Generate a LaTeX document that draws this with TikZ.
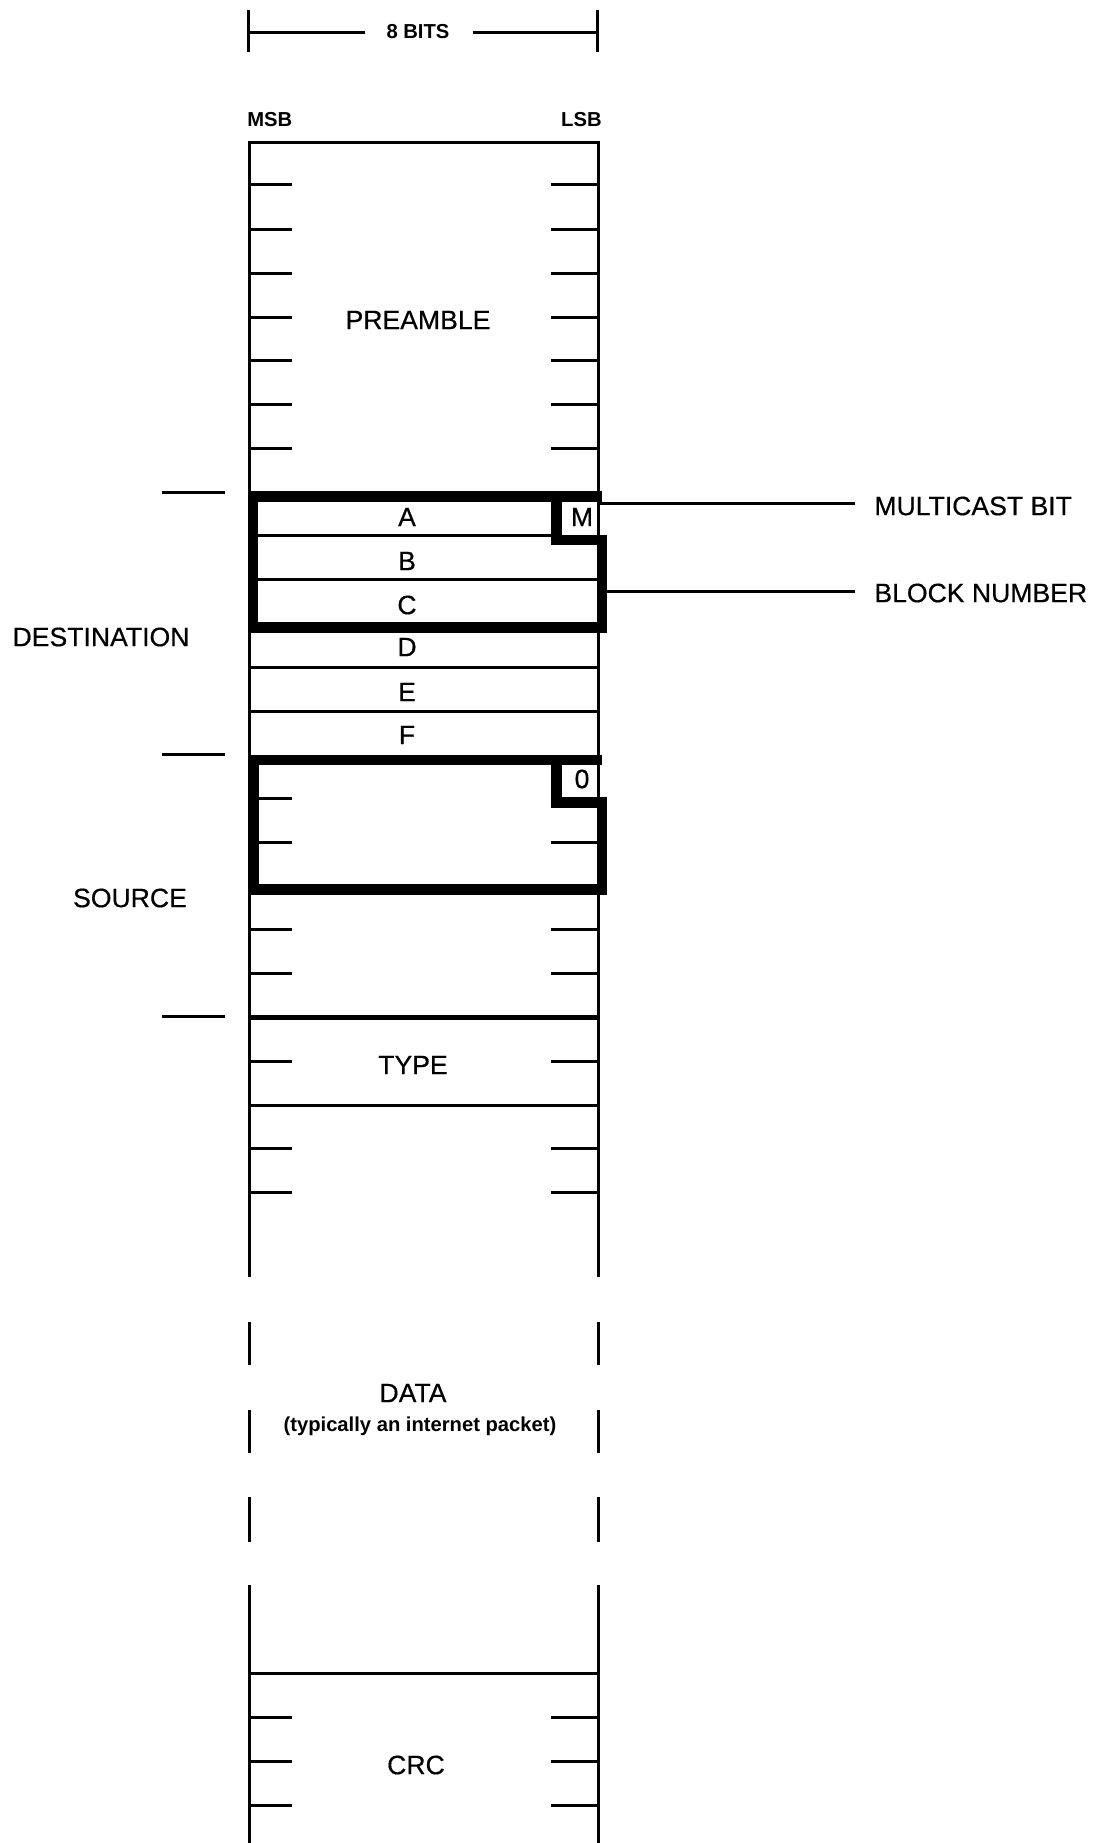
\documentclass[tikz,border=0pt]{standalone}
\usepackage{fontspec}
\setmainfont{Liberation Sans}
\newfontfamily\inkfont[FakeBold=0.5]{Liberation Sans}
\begin{document}
\begin{tikzpicture}[x=0.5pt,y=-0.5pt,
  frameline/.style={line width=1.5pt},
  boxline/.style={line width=5.25pt, line join=miter},
  midline/.style={line width=2.5pt},
  bigtext/.style={font=\inkfont\fontsize{13.3}{15}\selectfont, inner sep=0pt},
  smalltext/.style={font=\fontsize{10.1}{12}\selectfont\bfseries, inner sep=0pt},
]
\useasboundingbox (0,0) rectangle (1105,1843);

% dimension line "8 BITS"
\node[smalltext] (bits) at (418,32) {8 BITS};
\coordinate (dimL) at (248,32);
\coordinate (dimR) at (597,32);
\draw[frameline] (dimL) -- (365,32);
\draw[frameline] (473,32) -- (dimR);
\draw[frameline] (248,10) -- (248,52);
\draw[frameline] (597,10) -- (597,52);

\node[smalltext, anchor=west] (msb) at (247,120) {MSB};
\node[smalltext, anchor=east] (lsb) at (602,120) {LSB};

% frame
\draw[frameline] (249,1277) -- (249,142) -- (598,142) -- (598,1277);

% preamble
\foreach \y in {184,229,273,317,360,404,448}{
  \draw[frameline] (249,\y) -- (292,\y);
  \draw[frameline] (551,\y) -- (598,\y);
}
\node[bigtext] (preamble) at (418,320) {PREAMBLE};

% destination
\draw[frameline] (253,535) -- (556,535);
\draw[frameline] (253,579) -- (602,579);
\draw[frameline] (249,667) -- (598,667);
\draw[frameline] (249,711) -- (598,711);
\draw[boxline] (602,496.5) -- (253,496.5) -- (253,627.5) -- (602,627.5) -- (602,540) -- (556.5,540) -- (556.5,496.5);
\node[bigtext] (A) at (407,517) {A};
\node[bigtext] (B) at (407,561) {B};
\node[bigtext] (C) at (407,605) {C};
\node[bigtext] (D) at (407,647) {D};
\node[bigtext] (E) at (407,692) {E};
\node[bigtext] (F) at (407,735) {F};
\node[bigtext] (M) at (582,517) {M};

% source
\draw[frameline] (253,798) -- (292,798);
\draw[frameline] (253,842) -- (292,842);
\draw[frameline] (551,842) -- (602,842);
\draw[boxline] (602,760) -- (254,760) -- (254,889.5) -- (602,889.5) -- (602,802.5) -- (556.5,802.5) -- (556.5,760);
\node[bigtext] (zero) at (582,779) {0};
\foreach \y in {929,973}{
  \draw[frameline] (249,\y) -- (292,\y);
  \draw[frameline] (551,\y) -- (598,\y);
}
\draw[midline] (249,1017) -- (599,1017);

% type
\foreach \y in {1061,1148,1192}{
  \draw[frameline] (249,\y) -- (292,\y);
  \draw[frameline] (551,\y) -- (598,\y);
}
\draw[frameline] (249,1105) -- (598,1105);
\node[bigtext] (type) at (413,1065) {TYPE};

% data
\foreach \a/\b in {1322/1365,1410/1453,1497/1542}{
  \draw[frameline] (249,\a) -- (249,\b);
  \draw[frameline] (598,\a) -- (598,\b);
}
\node[bigtext] (data) at (413,1393) {DATA};
\node[smalltext] (datanote) at (420,1426) {(typically an internet packet)};

% crc
\draw[frameline] (249,1843) -- (249,1585);
\draw[frameline] (598,1843) -- (598,1585);
\draw[frameline] (249,1673) -- (598,1673);
\foreach \y in {1717,1761,1805}{
  \draw[frameline] (249,\y) -- (292,\y);
  \draw[frameline] (551,\y) -- (598,\y);
}
\node[bigtext] (crc) at (416,1765) {CRC};

% left labels and ticks
\foreach \y in {492,754,1016}{
  \draw[frameline] (162,\y) -- (225,\y);
}
\node[bigtext] (dest) at (101,637) {DESTINATION};
\node[bigtext] (src) at (130,898) {SOURCE};

% right labels
\node[bigtext, anchor=west] (mcast) at (874,506) {MULTICAST BIT};
\node[bigtext, anchor=west] (block) at (874,593) {BLOCK NUMBER};
\coordinate (mcastStart) at (600,503);
\coordinate (blockStart) at (605,591);
\draw[frameline] (mcastStart) -- (855,503);
\draw[frameline] (blockStart) -- (855,591);
\end{tikzpicture}
\end{document}
